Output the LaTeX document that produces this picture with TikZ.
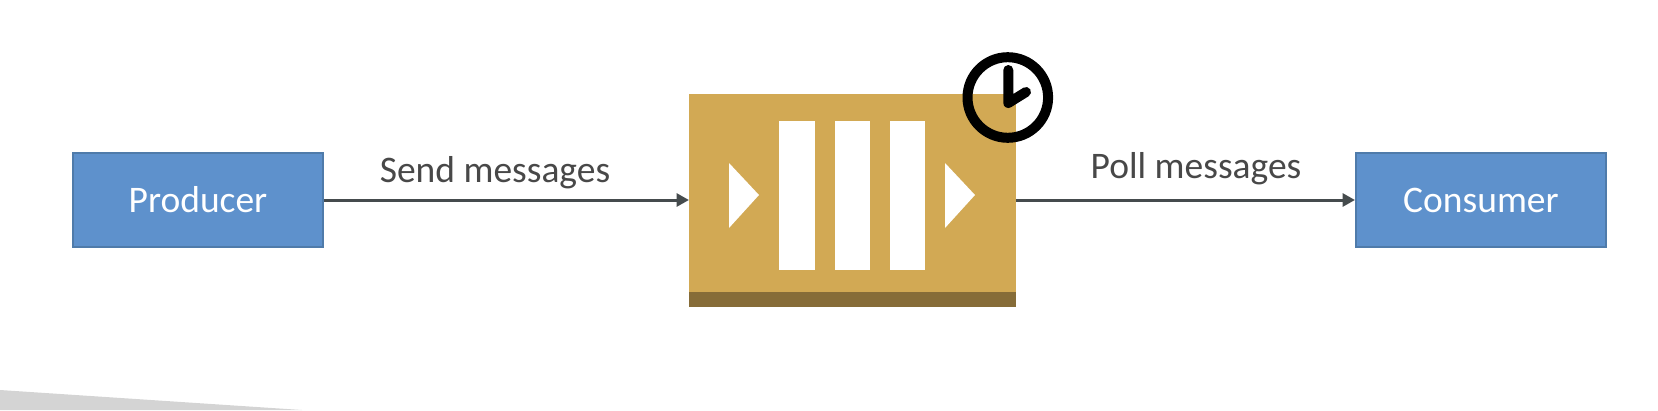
\documentclass[tikz,border=0pt]{standalone}
\usepackage{fontspec}
\setmainfont{Carlito}
\usetikzlibrary{arrows.meta}
\definecolor{boxfill}{HTML}{5E91CC}
\definecolor{boxedge}{HTML}{4F7BAA}
\definecolor{gold}{HTML}{D2A954}
\definecolor{golddark}{HTML}{866C38}
\definecolor{linegray}{HTML}{454B4D}
\definecolor{textgray}{HTML}{484848}
\definecolor{wedge}{HTML}{D4D4D4}
\tikzset{
  actor/.style={draw=boxedge,line width=2pt,fill=boxfill,text=white,minimum width=250pt,minimum height=94pt,inner sep=0pt,font=\fontsize{37.5}{45}\selectfont,text depth=0pt,text height=24pt,yshift=0pt},
  flow/.style={draw=linegray,line width=3pt,-{Triangle[length=12.5pt,width=13pt]}},
  lbl/.style={text=textgray,inner sep=0pt,font=\fontsize{37.5}{45}\selectfont},
  wbar/.style={fill=white,draw=none},
  clockline/.style={draw=black,line width=10pt}
}
\begin{document}
\begin{tikzpicture}[x=1pt,y=-1pt]
\useasboundingbox (0,0) rectangle (1658,410);
\fill[wedge] (0,390) -- (302,410) -- (0,410) -- cycle;
\node[actor] (prod) at (198,200) {Producer};
\node[actor] (cons) at (1481,200) {Consumer};
\node[fill=gold,minimum width=327pt,minimum height=212.5pt,inner sep=0pt,anchor=north west] (queue) at (689,94) {};
\fill[golddark] (689,292) rectangle (1016,306.5);
\fill[wbar] (779,121) rectangle (814.5,270);
\fill[wbar] (834.5,121) rectangle (869.5,270);
\fill[wbar] (890,121) rectangle (925,270);
\fill[wbar] (729,163) -- (759,195) -- (729,228) -- cycle;
\fill[wbar] (945,163) -- (975,195) -- (945,228) -- cycle;
\draw[clockline] (1007.8,97.5) circle (40.3);
\draw[flow] (prod.east) -- (queue.west |- prod.east);
\draw[flow] (queue.east |- cons.west) -- (cons.west);
\node[lbl] (send) at (495,173) {Send messages};
\node[lbl] (poll) at (1196,169) {Poll messages};
\draw[black,line width=10pt,line cap=round,line join=round] (1008.3,70) -- (1008.3,103) -- (1026,92);
\end{tikzpicture}
\end{document}
